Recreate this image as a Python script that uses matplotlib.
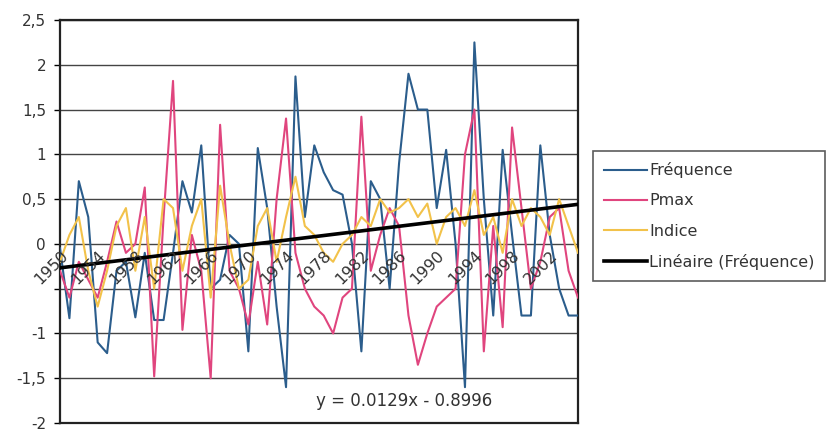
import numpy as np
import matplotlib
matplotlib.use('Agg')
import matplotlib.pyplot as plt

plt.rcParams['font.family'] = ['DejaVu Sans']

years = list(range(1950, 2006))
tick_years = list(range(1950, 2003, 4))

frequence = [-0.05, -0.83, 0.70, 0.30, -1.10, -1.22, -0.30, -0.20, -0.82, -0.10,
             -0.85, -0.85, -0.10, 0.70, 0.35, 1.10, -0.50, -0.40, 0.10, 0.00,
             -1.20, 1.07, 0.40, -0.70, -1.60, 1.87, 0.30, 1.10, 0.80, 0.60,
             0.55, 0.00, -1.20, 0.70, 0.50, -0.50, 0.90, 1.90, 1.50, 1.50,
             0.40, 1.05, 0.00, -1.60, 2.25, 0.50, -0.80, 1.05, 0.10, -0.80,
             -0.80, 1.10, 0.10, -0.50, -0.80, -0.80]
pmax = [-0.30, -0.60, -0.20, -0.40, -0.60, -0.20, 0.25, -0.10, 0.00, 0.63,
        -1.48, 0.30, 1.82, -0.96, 0.10, -0.30, -1.50, 1.33, -0.30, -0.50,
        -0.90, -0.20, -0.90, 0.50, 1.40, -0.10, -0.50, -0.70, -0.80, -1.00,
        -0.60, -0.50, 1.42, -0.30, 0.10, 0.40, 0.20, -0.80, -1.35, -1.00,
        -0.70, -0.60, -0.50, 1.00, 1.50, -1.20, 0.20, -0.93, 1.30, 0.40,
        -0.50, -0.20, 0.30, 0.40, -0.30, -0.60]
indice = [-0.20, 0.10, 0.30, -0.30, -0.70, -0.30, 0.20, 0.40, -0.30, 0.30,
          -0.50, 0.50, 0.40, -0.30, 0.20, 0.50, -0.60, 0.65, 0.00, -0.50,
          -0.40, 0.20, 0.40, -0.20, 0.30, 0.75, 0.20, 0.10, -0.10, -0.20,
          0.00, 0.10, 0.30, 0.20, 0.50, 0.35, 0.40, 0.50, 0.30, 0.45,
          0.00, 0.30, 0.40, 0.20, 0.60, 0.10, 0.30, -0.10, 0.50, 0.20,
          0.40, 0.30, 0.10, 0.50, 0.20, -0.10]
trend_slope = 0.0129
equation = 'y = 0.0129x - 0.8996'

x = np.arange(len(years))

fig = plt.figure(figsize=(8.4, 4.33), dpi=100)
ax = fig.add_axes([60/840, 10/433, 518/840, 403/433])

for v in np.arange(-2, 2.51, 0.5):
    ax.axhline(v, color='#444444', lw=1.0, zorder=1)

ax.plot(x, frequence, color='#2b5d8c', lw=1.5, label='Fréquence', zorder=3)
ax.plot(x, pmax, color='#e0457e', lw=1.5, label='Pmax', zorder=3)
ax.plot(x, indice, color='#f2c24a', lw=1.5, label='Indice', zorder=3)

# linear trend of Fréquence (slope from the equation, through the data mean)
xt = x + 1
b = np.mean(frequence) - trend_slope * np.mean(xt)
ax.plot(x, trend_slope * xt + b, color='black', lw=2.6,
        label='Linéaire (Fréquence)', zorder=4)

ax.set_xlim(0, len(years) - 1)
ax.set_ylim(-2, 2.5)
ax.set_xticks([])
yt = np.arange(-2, 2.51, 0.5)
ax.set_yticks(yt)
ax.set_yticklabels(['' if abs(v + 0.5) < 1e-9 else ('%g' % v).replace('.', ',') for v in yt],
                   fontsize=11, color='#333333')
ax.tick_params(axis='y', length=4, width=1, direction='out', pad=6)
for s in ax.spines.values():
    s.set_linewidth(1.6)
    s.set_color('#222222')

for yr in tick_years:
    ax.text(years.index(yr), -0.04, str(yr), rotation=45, rotation_mode='anchor',
            ha='right', va='top', fontsize=11.5, color='#333333', zorder=5)

ax.text(0.665, 0.055, equation, transform=ax.transAxes, ha='center', va='center',
        fontsize=12, color='#333333', zorder=5)

leg = fig.legend(loc='upper left', bbox_to_anchor=(593/840, 1 - 151/433),
                 fontsize=11.5, handlelength=2.7, labelspacing=0.95, frameon=True,
                 fancybox=False, borderpad=0.7, handletextpad=0.1, borderaxespad=0)
leg.get_frame().set_edgecolor('#333333')
leg.get_frame().set_linewidth(1.2)
for t in leg.get_texts():
    t.set_color('#333333')

fig.savefig('out.png', dpi=100)
